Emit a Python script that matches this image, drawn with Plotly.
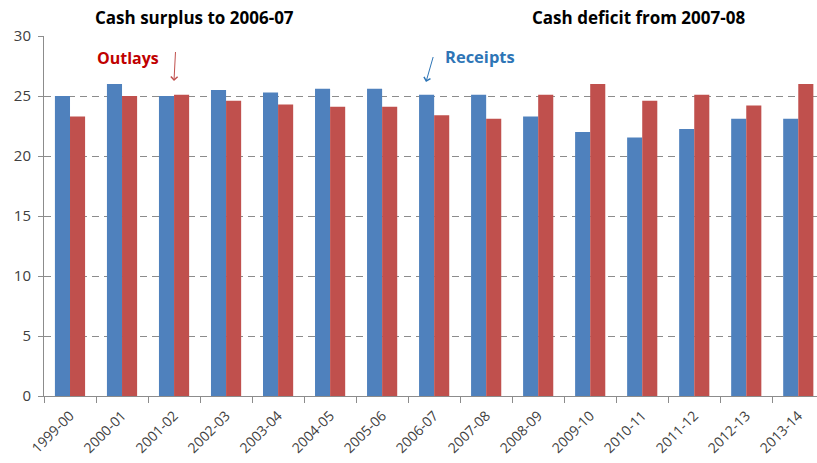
import plotly.graph_objects as go

years = ["1999-00", "2000-01", "2001-02", "2002-03", "2003-04", "2004-05", "2005-06",
         "2006-07", "2007-08", "2008-09", "2009-10", "2010-11", "2011-12", "2012-13", "2013-14"]
receipts = [25.0, 26.0, 25.0, 25.5, 25.3, 25.6, 25.6, 25.1, 25.1, 23.3, 22.0, 21.55, 22.25, 23.1, 23.1]
outlays = [23.3, 25.0, 25.1, 24.6, 24.3, 24.1, 24.1, 23.4, 23.1, 25.1, 26.0, 24.6, 25.1, 24.2, 26.0]
y_ticks = [0, 5, 10, 15, 20, 25, 30]

BLUE = "#4F81BD"
RED = "#C0504D"
FONT = "Open Sans"

L, T, B = 44, 36, 67
PW, PH = 817 - L, 463 - T - B


def px(x):
    return (x - L) / PW


def py(y):
    return (463 - B - y) / PH


fig = go.Figure()
fig.add_trace(go.Bar(x=years, y=receipts, name="Receipts", marker=dict(color=BLUE, line=dict(width=0))))
fig.add_trace(go.Bar(x=years, y=outlays, name="Outlays", marker=dict(color=RED, line=dict(width=0))))

fig.update_layout(
    width=817, height=463,
    margin=dict(l=L, r=0, t=T, b=B, autoexpand=False),
    paper_bgcolor="white", plot_bgcolor="white",
    barmode="group", bargap=0.42, bargroupgap=0,
    showlegend=False,
    font=dict(family=FONT, color="#404040"),
    xaxis=dict(
        type="category", range=[-0.5, 14.36], automargin=False,
        showline=True, linecolor="#8c8c8c", linewidth=1,
        ticks="outside", tickson="boundaries", ticklen=6, tickcolor="#8c8c8c",
        ticklabelstandoff=5,
        tickangle=-45, tickfont=dict(size=14, color="#404040", family=FONT),
        showgrid=False,
    ),
    yaxis=dict(
        range=[0, 30], tickvals=y_ticks, automargin=False,
        showline=True, linecolor="#8c8c8c", linewidth=1,
        ticks="outside", ticklen=5, tickcolor="#8c8c8c", ticklabelstandoff=4,
        tickfont=dict(size=15, color="#404040", family=FONT),
        showgrid=True, gridcolor="#8c8c8c", griddash="7px,5px", gridwidth=1,
        zeroline=False,
    ),
)

fig.add_annotation(text="<b>Cash surplus to 2006-07</b>", xref="paper", yref="paper",
                   x=px(194), y=py(18), xanchor="center", yanchor="middle", showarrow=False,
                   font=dict(size=17, color="#000000", family=FONT))
fig.add_annotation(text="<b>Cash deficit from 2007-08</b>", xref="paper", yref="paper",
                   x=px(638), y=py(18), xanchor="center", yanchor="middle", showarrow=False,
                   font=dict(size=17, color="#000000", family=FONT))

fig.add_annotation(text="<b>Outlays</b>", xref="paper", yref="paper",
                   x=px(128), y=py(58), xanchor="center", yanchor="middle", showarrow=False,
                   font=dict(size=16, color="#C00000", family=FONT))
fig.add_annotation(text=" ", xref="paper", yref="paper",
                   x=px(174), y=py(81),
                   ax=2, ay=-39, axref="pixel", ayref="pixel",
                   showarrow=True, arrowhead=4, arrowsize=1.3, arrowwidth=1, arrowcolor="#C0504D")

fig.add_annotation(text="<b>Receipts</b>", xref="paper", yref="paper",
                   x=px(480), y=py(56), xanchor="center", yanchor="middle", showarrow=False,
                   font=dict(size=16.5, color="#2E75B6", family=FONT))
fig.add_annotation(text=" ", xref="paper", yref="paper",
                   x=px(426), y=py(82),
                   ax=10, ay=-35, axref="pixel", ayref="pixel",
                   showarrow=True, arrowhead=4, arrowsize=1.3, arrowwidth=1, arrowcolor="#2E75B6")

fig.write_html("out.html", config={"displayModeBar": False},
               post_script="document.body.style.margin='0';")
